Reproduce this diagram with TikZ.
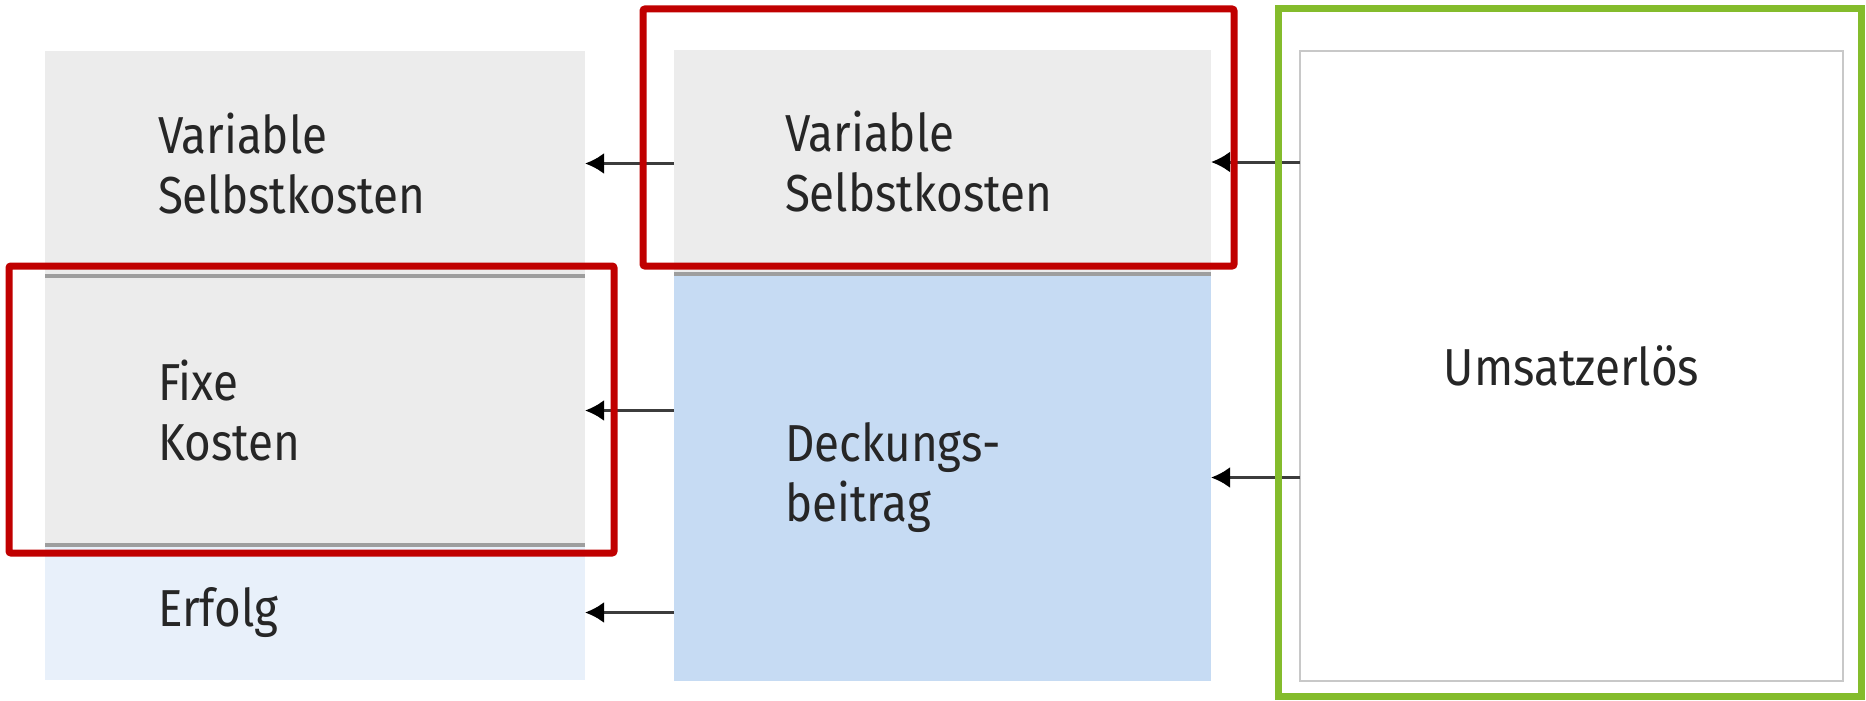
\documentclass[tikz,border=0pt]{standalone}
\usepackage{fontspec}
\setmainfont{Fira Sans}[FakeStretch=0.88]
\usetikzlibrary{arrows.meta}
\definecolor{boxgray}{HTML}{ECECEC}
\definecolor{lightblue}{HTML}{E8F0FA}
\definecolor{midblue}{HTML}{C6DBF3}
\definecolor{sepgray}{HTML}{9E9E9E}
\definecolor{framegray}{HTML}{C8C8C8}
\definecolor{hlred}{HTML}{C00000}
\definecolor{hlgreen}{HTML}{84BC2C}
\definecolor{txt}{HTML}{262626}
\definecolor{arrgray}{HTML}{3C3C3C}
\begin{document}
\begin{tikzpicture}[x=1pt,y=-1pt,
  box/.style={anchor=north west, inner sep=0pt, outer sep=0pt, align=left,
    font=\fontsize{52}{60}\selectfont, text=txt},
  sepline/.style={draw=sepgray, line width=4pt},
  arr/.style={draw=arrgray, line width=3pt, -{Latex[length=19pt,width=21pt,fill=black,color=black]}},
  redframe/.style={draw=hlred, line width=7pt, rounded corners=2pt},
  greenframe/.style={draw=hlgreen, line width=7pt}
]
\useasboundingbox (0,0) rectangle (1866,701);
% left column
\node[box, fill=boxgray, minimum width=540pt, minimum height=225pt, text width=314pt] (l1) at (45,51) {Variable\\Selbstkosten};
\node[box, fill=boxgray, minimum width=540pt, minimum height=269pt, text width=314pt] (l2) at (45,276) {Fixe\\Kosten};
\node[box, fill=lightblue, minimum width=540pt, minimum height=135pt, text width=314pt] (l3) at (45,545) {Erfolg};
% middle column
\node[box, fill=boxgray, minimum width=537pt, minimum height=224pt, text width=315pt] (m1) at (674,50) {Variable\\Selbstkosten};
\node[box, fill=midblue, minimum width=537pt, minimum height=407pt, text width=315pt] (m2) at (674,274) {Deckungs-\\beitrag};
% right box
\node[box, draw=framegray, line width=2pt, fill=white, minimum width=543pt, minimum height=630pt, align=center] (r) at (1300,51) {Umsatzerlös};
% separators
\draw[sepline] (l1.south west) -- (l1.south east);
\draw[sepline] (l2.south west) -- (l2.south east);
\draw[sepline] (m1.south west) -- (m1.south east);
% arrows
\draw[arr] (m1.west |- l1.center) -- (l1.east);
\draw[arr] (m2.west |- l2.center) -- (l2.east);
\draw[arr] (m2.west |- l3.center) -- (l3.east);
\draw[arr] (r.west |- m1.center) -- (m1.east);
\draw[arr] (r.west |- m2.center) -- (m2.east);
% highlight frames
\draw[redframe] (9,266) rectangle (614,553);
\draw[redframe] (643,9) rectangle (1234,266);
\draw[greenframe] (1278,9) rectangle (1861,696);
\end{tikzpicture}
\end{document}
